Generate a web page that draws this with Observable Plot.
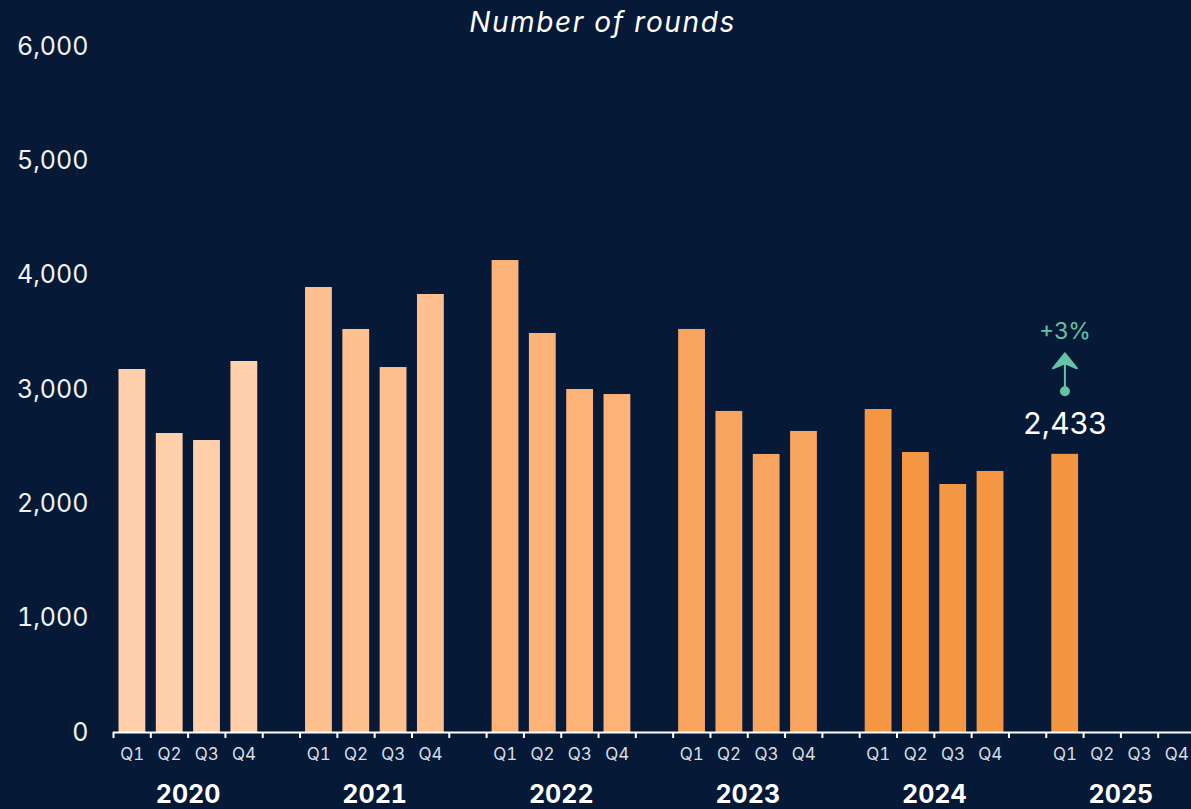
<!DOCTYPE html>
<html>
<head>
<meta charset="utf-8">
<script src="https://cdn.jsdelivr.net/npm/d3@7"></script>
<script src="https://cdn.jsdelivr.net/npm/@observablehq/plot@0.6"></script>
<style>
  html, body { margin: 0; padding: 0; background: #061a38; overflow: hidden; }
  #wrap { position: relative; width: 1191px; height: 809px; overflow: hidden; background: #061a38; }
  #title { position: absolute; top: 3px; left: 0; width: 1191px; padding-left: 14px; box-sizing: border-box;
           text-align: center; font-family: Inter, "Noto Sans", sans-serif; font-style: italic; font-size: 28px;
           letter-spacing: 1.6px; color: #ffffff; line-height: 38px; }
  svg { display: block; }
</style>
</head>
<body>
<div id="wrap"><div id="title">Number of rounds</div></div>
<script>
const years = ["2020", "2021", "2022", "2023", "2024", "2025"];
const quarters = ["Q1", "Q2", "Q3", "Q4"];
const values2020 = [3175, 2615, 2554, 3245];
const values2021 = [3892, 3525, 3192, 3831];
const values2022 = [4128, 3490, 3000, 2956];
const values2023 = [3525, 2808, 2432, 2633];
const values2024 = [2825, 2449, 2169, 2283];
const values2025 = [2433, null, null, null];
const yearColors = ["#ffd0aa", "#ffc08f", "#fdb277", "#f9a45e", "#f59642", "#f39440"];
const yTicks = [0, 1000, 2000, 3000, 4000, 5000, 6000];
const highlightLabel = "2,433";
const changeLabel = "+3%";

const valuesByYear = [values2020, values2021, values2022, values2023, values2024, values2025];
const slotsPerYear = 5; // 4 quarters + 1 empty gap
const totalSlots = years.length * slotsPerYear - 1;

const data = [];
years.forEach((y, yi) => {
  quarters.forEach((q, qi) => {
    data.push({year: y, quarter: q, slot: yi * slotsPerYear + qi, value: valuesByYear[yi][qi]});
  });
});
const bars = data.filter(d => d.value != null);
const highlight = data.filter(d => d.year === "2025" && d.quarter === "Q1");
const slotTicks = d3.range(0, totalSlots);
const qCenters = data.map(d => d.slot + 0.5);
const qLabelBySlot = new Map(data.map(d => [d.slot + 0.5, d.quarter]));
const yearCenters = years.map((y, yi) => yi * slotsPerYear + 2);
const yearLabelByPos = new Map(years.map((y, yi) => [yi * slotsPerYear + 2, y]));

const teal = "#66c2a5";
const font = "Inter, 'Noto Sans', sans-serif";

const arrowShape = {
  draw(context, l, r) {
    context.moveTo(0, 0);
    context.lineTo(0, -l + 8);
    context.moveTo(0, -l);
    context.lineTo(12, -l + 15);
    context.lineTo(0, -l + 10);
    context.lineTo(-12, -l + 15);
    context.closePath();
  }
};

const chart = Plot.plot({
  width: 1191,
  height: 809,
  marginTop: 46,
  marginBottom: 77,
  marginLeft: 113,
  marginRight: -4,
  style: {background: "#061a38", color: "#ffffff", fontFamily: font, overflow: "visible"},
  x: {type: "linear", domain: [0, totalSlots], axis: null},
  y: {domain: [0, 6000], axis: null},
  color: {domain: years, range: yearColors},
  marks: [
    Plot.rectY(bars, {x1: "slot", x2: d => d.slot + 1, y: "value", fill: "year", insetLeft: 5.5, insetRight: 5}),
    Plot.ruleY([0], {stroke: "#ffffff", strokeWidth: 2}),
    Plot.axisX({ticks: slotTicks, tickFormat: () => "", tickSize: 6, stroke: "#ffffff", strokeWidth: 2, label: null}),
    Plot.axisX({ticks: qCenters, tickFormat: d => qLabelBySlot.get(d), tickSize: 0, tickPadding: 15,
                fontSize: 17, fill: "#d9dde4", label: null}),
    Plot.axisX({ticks: yearCenters, tickFormat: d => yearLabelByPos.get(d), tickSize: 0, tickPadding: 53,
                fontSize: 25, fontWeight: 700, fill: "#ffffff", label: null}),
    Plot.axisY({ticks: yTicks, tickFormat: d3.format(","), tickSize: 0, tickPadding: 25,
                fontSize: 25, fill: "#f2f2f2", label: null}),
    Plot.text(highlight, {x: d => d.slot + 0.5, y: "value", text: () => highlightLabel, dy: -30,
                          fontSize: 30, fill: "#ffffff"}),
    Plot.vector(highlight, {x: d => d.slot + 0.5, y: "value", dy: -63, length: 38, rotate: 0, anchor: "start",
                            shape: arrowShape, stroke: teal, fill: teal, strokeWidth: 2}),
    Plot.dot(highlight, {x: d => d.slot + 0.5, y: "value", dy: -63, r: 5, fill: teal}),
    Plot.text(highlight, {x: d => d.slot + 0.5, y: "value", text: () => changeLabel, dy: -123,
                          fontSize: 23, fill: teal})
  ]
});
document.getElementById("wrap").prepend(chart);
</script>
</body>
</html>
